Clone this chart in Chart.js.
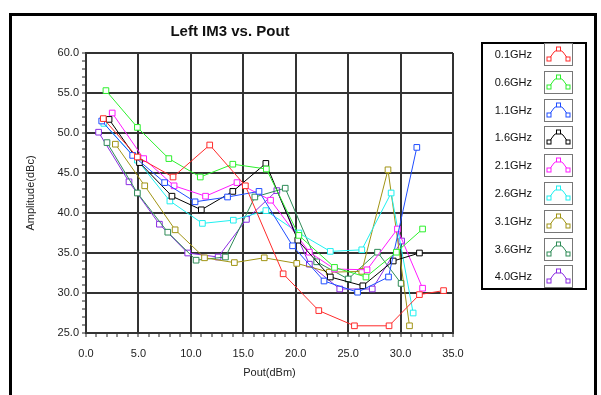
<!DOCTYPE html>
<html>
<head>
<meta charset="utf-8">
<script src="https://cdn.jsdelivr.net/npm/chart.js@4.4.1/dist/chart.umd.min.js"></script>
<style>
  html, body { margin: 0; padding: 0; background: #fff; }
  #wrap { position: relative; width: 601px; height: 395px; overflow: hidden; font-family: 'Liberation Sans', Arial, sans-serif; }
  #frame { position: absolute; left: 9px; top: 13px; width: 588px; height: 420px; border: 3px solid #000; box-sizing: border-box; }
  #titulo { position: absolute; left: 130px; width: 200px; top: 22px; text-align: center; font-size: 15px; font-weight: bold; color: #111; }
  #leyenda { position: absolute; left: 481px; top: 42px; width: 106px; height: 248px; border: 2px solid #000; box-sizing: border-box; }
  .fila { position: absolute; left: 0; width: 100%; height: 23px; }
  .fila span { position: absolute; right: 53px; top: 5px; font-size: 11px; color: #111; }
  .fila svg { position: absolute; left: 61px; top: 0; }
  canvas { position: absolute; left: 0; top: 0; }
</style>
</head>
<body>
<div id="wrap">
  <canvas id="grafica" width="601" height="395"></canvas>
  <div id="frame"></div>
  <div id="titulo">Left IM3 vs. Pout</div>
  <div id="leyenda"></div>
</div>
<script>
// Datos: Pout (dBm) y amplitud IM3 (dBc) por frecuencia
const frecuencias = ['0.1GHz', '0.6GHz', '1.1GHz', '1.6GHz', '2.1GHz', '2.6GHz', '3.1GHz', '3.6GHz', '4.0GHz']

const pout01 = [1.65, 4.9, 8.3, 11.8, 15.2, 18.8, 22.2, 25.6, 28.9, 31.8, 34.1]
const im3_01 = [51.8, 47.0, 44.5, 48.5, 43.4, 32.4, 27.8, 25.9, 25.9, 29.8, 30.3]

const pout06 = [1.9, 4.9, 7.9, 10.9, 14.0, 17.2, 20.3, 23.7, 26.7, 29.6, 32.1]
const im3_06 = [55.3, 50.7, 46.8, 44.5, 46.1, 45.5, 37.2, 33.2, 32.0, 35.1, 38.0]

const pout11 = [1.5, 4.45, 7.5, 10.4, 13.5, 16.5, 19.7, 22.7, 25.9, 28.85, 31.55]
const im3_11 = [51.5, 47.2, 43.8, 41.4, 42.0, 42.7, 35.9, 31.5, 30.1, 32.0, 48.2]

const pout16 = [2.2, 5.1, 8.2, 11.0, 14.0, 17.15, 20.2, 23.3, 26.4, 29.3, 31.8]
const im3_16 = [51.7, 46.3, 42.1, 40.4, 42.7, 46.2, 36.6, 32.0, 30.9, 34.0, 35.0]

const pout21 = [2.5, 5.5, 8.4, 11.4, 14.4, 17.6, 21.3, 23.7, 26.8, 29.7, 32.1]
const im3_21 = [52.5, 46.8, 43.4, 42.1, 43.8, 41.6, 35.1, 33.0, 32.9, 38.0, 30.6]

const pout26 = [1.7, 4.9, 8.0, 11.1, 14.05, 17.15, 20.3, 23.3, 26.3, 29.1, 31.2]
const im3_26 = [51.2, 46.6, 41.5, 38.7, 39.1, 40.3, 37.5, 35.2, 35.4, 42.5, 27.5]

const pout31 = [2.8, 5.6, 8.5, 11.3, 14.15, 17.0, 20.1, 23.2, 26.3, 28.8, 30.85]
const im3_31 = [48.6, 43.4, 37.9, 34.4, 33.8, 34.4, 33.7, 32.6, 32.7, 45.4, 25.9]

const pout36 = [2.0, 4.9, 7.8, 10.5, 13.3, 16.1, 19.0, 22.0, 25.0, 27.8, 30.05]
const im3_36 = [48.8, 42.5, 37.6, 34.1, 34.5, 42.0, 43.1, 33.9, 31.75, 35.1, 31.2]

const pout40 = [1.2, 4.1, 7.0, 9.7, 12.6, 15.3, 18.2, 21.3, 24.2, 27.3, 30.1]
const im3_40 = [50.1, 43.9, 38.6, 35.0, 34.5, 39.2, 42.8, 33.6, 30.5, 30.5, 36.5]

const series = [
  [pout01, im3_01], [pout06, im3_06], [pout11, im3_11],
  [pout16, im3_16], [pout21, im3_21], [pout26, im3_26],
  [pout31, im3_31], [pout36, im3_36], [pout40, im3_40],
]

const COLORES = ['#ff2a2a', '#2cf02c', '#1f4dff', '#000000', '#ff1aff', '#1ef0f0', '#a09414', '#2e8b57', '#8a2be2']

// Leyenda en HTML con icono de linea y marcadores
const ley = document.getElementById('leyenda')
frecuencias.forEach(function(f, i) {
  const c = COLORES[i]
  const div = document.createElement('div')
  div.className = 'fila'
  div.style.top = (i * 27.8 - 1) + 'px'
  div.innerHTML = '<span>' + f + '</span>' +
    '<svg width="29" height="23" viewBox="0 0 29 23">' +
    '<rect x="0.5" y="0.5" width="28" height="22" fill="#fff" stroke="#777"/>' +
    '<polyline points="5,16 10,9 14.5,6 19,9 24,16" fill="none" stroke="' + c + '" stroke-width="1"/>' +
    '<rect x="3" y="14" width="4" height="4" fill="#fff" stroke="' + c + '"/>' +
    '<rect x="12.5" y="4" width="4" height="4" fill="#fff" stroke="' + c + '"/>' +
    '<rect x="22" y="14" width="4" height="4" fill="#fff" stroke="' + c + '"/>' +
    '</svg>'
  ley.appendChild(div)
})

const esMayor = function(v) { return Math.abs(v % 5) < 1e-9 }

new Chart(document.getElementById('grafica'), {
  type: 'line',
  data: {
    datasets: series.map(function(s, i) {
      return {
        label: frecuencias[i],
        data: s[0].map(function(x, j) { return { x: x, y: s[1][j] } }),
        borderColor: COLORES[i],
        backgroundColor: '#fff',
        borderWidth: 1,
        pointStyle: 'rect',
        pointRadius: 4,
        pointBorderWidth: 1,
        tension: 0,
      }
    })
  },
  options: {
    responsive: false,
    animation: false,
    layout: { padding: { top: 53, right: 148, left: 0, bottom: 0 } },
    plugins: { legend: { display: false }, tooltip: { enabled: false } },
    scales: {
      x: {
        type: 'linear', min: 0, max: 35,
        afterFit: function(s) { s.height = 62 },
        ticks: {
          stepSize: 1, autoSkip: false, maxRotation: 0, padding: 10, color: '#222',
          font: { family: "'Liberation Sans', Arial, sans-serif", size: 11 },
          callback: function(v) { return esMayor(v) ? v.toFixed(1) : '' }
        },
        grid: {
          color: '#333', tickColor: '#222', tickLength: 4, tickWidth: 1,
          lineWidth: function(ctx) { return esMayor(ctx.tick.value) ? 2 : 0 }
        },
        border: { display: true, color: '#333', width: 2 },
        title: {
          display: true, text: 'Pout(dBm)', color: '#222', padding: { bottom: 15 },
          font: { family: "'Liberation Sans', Arial, sans-serif", size: 11 }
        }
      },
      y: {
        min: 25, max: 60,
        afterFit: function(s) { s.width = 86 },
        ticks: {
          stepSize: 1, autoSkip: false, padding: 3, color: '#222',
          font: { family: "'Liberation Sans', Arial, sans-serif", size: 11 },
          callback: function(v) { return esMayor(v) ? v.toFixed(1) : '' }
        },
        grid: {
          color: '#333', tickColor: '#222', tickLength: 4, tickWidth: 1,
          lineWidth: function(ctx) { return esMayor(ctx.tick.value) ? 2 : 0 }
        },
        border: { display: true, color: '#333', width: 2 },
        title: {
          display: true, text: 'Amplitude(dBc)', color: '#222', padding: { top: 24 },
          font: { family: "'Liberation Sans', Arial, sans-serif", size: 11 }
        }
      }
    }
  }
})
</script>
</body>
</html>
